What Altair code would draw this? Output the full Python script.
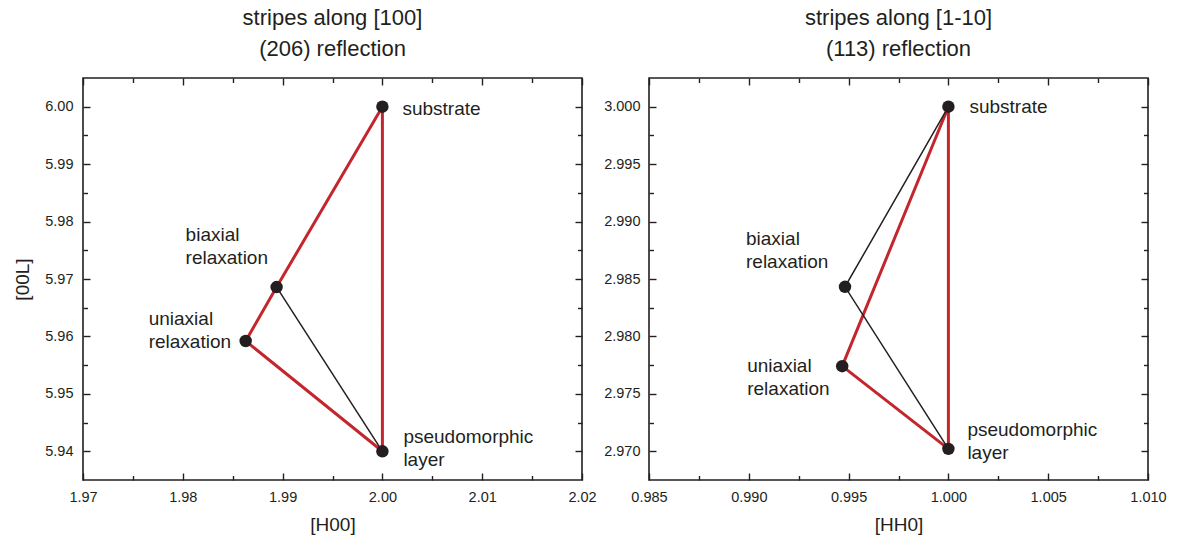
import altair as alt
import pandas as pd

# ---------------- data ----------------
point_keys = ["substrate", "biaxial", "uniaxial", "pseudo"]
point_texts = ["substrate", "biaxial\nrelaxation", "uniaxial\nrelaxation", "pseudomorphic\nlayer"]

# left panel: stripes along [100], (206) reflection
left_h = [2.0000, 1.9894, 1.9863, 2.0000]
left_l = [6.0000, 5.9686, 5.9592, 5.9400]
left_red_path = [0, 1, 2, 3, 0]
left_black_path = [1, 3]
left_x_domain = [1.97, 2.02]
left_y_domain = [5.935, 6.005]
left_x_major = [1.97, 1.98, 1.99, 2.00, 2.01, 2.02]
left_x_minor = [1.975, 1.985, 1.995, 2.005, 2.015]
left_y_major = [5.94, 5.95, 5.96, 5.97, 5.98, 5.99, 6.00]
left_y_minor = [5.945, 5.955, 5.965, 5.975, 5.985, 5.995]

# right panel: stripes along [1-10], (113) reflection
right_hh = [1.0000, 0.99482, 0.99468, 1.0000]
right_l = [3.0000, 2.98432, 2.97741, 2.97021]
right_red_path = [0, 2, 3, 0]
right_black_path = [0, 1, 3]
right_x_domain = [0.985, 1.010]
right_y_domain = [2.9675, 3.0025]
right_x_major = [0.985, 0.990, 0.995, 1.000, 1.005, 1.010]
right_x_minor = [0.9875, 0.9925, 0.9975, 1.0025, 1.0075]
right_y_major = [2.970, 2.975, 2.980, 2.985, 2.990, 2.995, 3.000]
right_y_minor = [2.9725, 2.9775, 2.9825, 2.9875, 2.9925, 2.9975]

# ---------------- style ----------------
FONT = "Liberation Sans"
INK = "#231f20"
RED = "#c3262d"
W, H = 499, 402
MAJ, MIN = 7, 4.5

# (dx, dy) of the first text line relative to its point
left_label_offsets = {"substrate": (20, 2), "biaxial": (-91, -52), "uniaxial": (-97, -22), "pseudo": (21, -14)}
right_label_offsets = {"substrate": (21, 0), "biaxial": (-99, -48), "uniaxial": (-95, 0), "pseudo": (19, -19)}


def label_axis(orient, fmt, title, values, pad, tpad):
    kw = dict(orient=orient, format=fmt, values=values, ticks=False, domain=False, grid=False,
              labelFont=FONT, labelFontSize=14.5, labelColor=INK, labelPadding=pad,
              labelFlush=False, labelOverlap=False,
              titleFont=FONT, titleFontSize=19, titleFontWeight="normal", titleColor=INK,
              titlePadding=tpad)
    kw["title"] = title
    return alt.Axis(**kw)


def tick_axis(orient, values, size):
    return alt.Axis(orient=orient, values=values, ticks=True, tickSize=size, tickColor=INK,
                    tickWidth=1.4, offset=-size, labels=False, domain=False, grid=False, title=None)


def panel(xs, ys, red_path, black_path, xdom, ydom, xmaj, xmin, ymaj, ymin,
          fmt, xtitle, ytitle, offsets, title_lines, ypad):
    pts = pd.DataFrame({"x": xs, "y": ys, "key": point_keys, "text": point_texts})
    red = pd.DataFrame({"x": [xs[i] for i in red_path], "y": [ys[i] for i in red_path],
                        "o": list(range(len(red_path)))})
    blk = pd.DataFrame({"x": [xs[i] for i in black_path], "y": [ys[i] for i in black_path],
                        "o": list(range(len(black_path)))})
    xs_ = alt.Scale(domain=xdom, nice=False, zero=False)
    ys_ = alt.Scale(domain=ydom, nice=False, zero=False)

    axes = [
        (label_axis("bottom", fmt, xtitle, xmaj, 10, 12), label_axis("left", fmt, ytitle, ymaj, ypad, 12)),
        (tick_axis("bottom", xmaj, MAJ), tick_axis("left", ymaj, MAJ)),
        (tick_axis("bottom", xmin, MIN), tick_axis("left", ymin, MIN)),
        (tick_axis("top", xmaj, MAJ), tick_axis("right", ymaj, MAJ)),
        (tick_axis("top", xmin, MIN), tick_axis("right", ymin, MIN)),
    ]

    def enc(i, extra=None):
        if i < len(axes):
            ax, ay = axes[i]
        else:
            ax, ay = None, None
        d = dict(x=alt.X("x:Q", scale=xs_, axis=ax), y=alt.Y("y:Q", scale=ys_, axis=ay))
        if extra:
            d.update(extra)
        return d

    layers = []
    layers.append(alt.Chart(red).mark_line(color=RED, strokeWidth=3, strokeJoin="round")
                  .encode(**enc(0, {"order": alt.Order("o:Q")})))
    layers.append(alt.Chart(blk).mark_line(color=INK, strokeWidth=1.5)
                  .encode(**enc(1, {"order": alt.Order("o:Q")})))
    layers.append(alt.Chart(pts).mark_point(filled=True, size=155, color=INK, opacity=1)
                  .encode(**enc(2)))
    for j, k in enumerate(point_keys):
        dx, dy = offsets[k]
        sub = pts[pts["key"] == k]
        layers.append(alt.Chart(sub).mark_text(align="left", baseline="middle", dx=dx, dy=dy,
                                               font=FONT, fontSize=19, color=INK,
                                               lineBreak="\n", lineHeight=23)
                      .encode(**enc(3 + j, {"text": "text:N"})))
    ch = alt.layer(*layers).resolve_axis(x="independent", y="independent").properties(
        width=W, height=H,
        title=alt.TitleParams(text=title_lines, font=FONT, fontSize=22, fontWeight="normal",
                              color=INK, lineHeight=31, anchor="middle", offset=16))
    return ch


left = panel(left_h, left_l, left_red_path, left_black_path, left_x_domain, left_y_domain,
             left_x_major, left_x_minor, left_y_major, left_y_minor, ".2f", "[H00]", "[00L]",
             left_label_offsets, ["stripes along [100]", "(206) reflection"], 10)
right = panel(right_hh, right_l, right_red_path, right_black_path, right_x_domain, right_y_domain,
              right_x_major, right_x_minor, right_y_major, right_y_minor, ".3f", "[HH0]", None,
              right_label_offsets, ["stripes along [1-10]", "(113) reflection"], 9)

chart = alt.hconcat(left, right, spacing=5).properties(
    padding={"left": 12, "top": 6, "right": 5, "bottom": 5}
).configure(font=FONT, background="white").configure_view(stroke=INK, strokeWidth=1.6)

chart.save("out.html", embed_options={"renderer": "svg", "actions": False})
